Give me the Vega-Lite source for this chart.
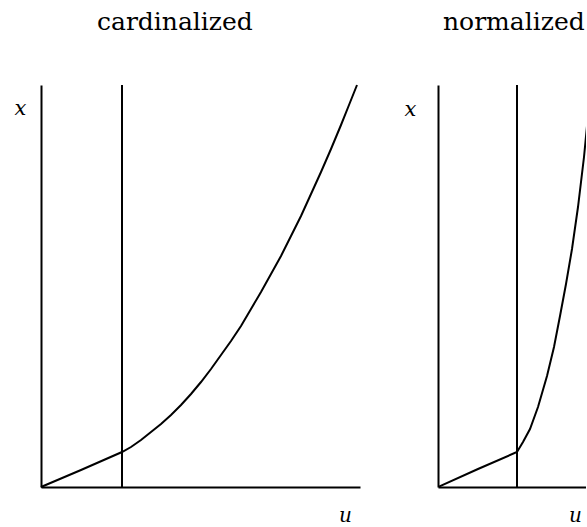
{
  "$schema": "https://vega.github.io/schema/vega-lite/v6.json",
  "background": "white",
  "padding": {"left": 14, "top": 10, "right": 0, "bottom": 0},
  "config": {
    "view": {"stroke": null},
    "axis": {
      "domainColor": "black", "domainWidth": 2, "ticks": false, "labels": false, "grid": false,
      "titleFont": "DejaVu Serif", "titleFontStyle": "italic", "titleFontWeight": "normal",
      "titleFontSize": 21, "titleAngle": 0, "titleColor": "black",
      "titleAlign": "center", "titleBaseline": "middle"
    },
    "title": {"font": "DejaVu Serif", "fontSize": 25, "fontWeight": "normal", "color": "black",
      "anchor": "start", "frame": "group", "baseline": "alphabetic"}
  },
  "bounds": "flush",
  "spacing": 78,
  "resolve": {"scale": {"x": "independent", "y": "independent"}},
  "hconcat": [
    {
      "width": 319, "height": 402,
      "title": {"text": "cardinalized", "dx": 56, "offset": 46},
      "layer": [
        {
          "data": {"values": [
            {"u": 0, "x": 0}, {"u": 40, "x": 17}, {"u": 81, "x": 35}, {"u": 90, "x": 40},
            {"u": 100, "x": 47}, {"u": 110, "x": 55},
            {"u": 120, "x": 63}, {"u": 130, "x": 72}, {"u": 140, "x": 82}, {"u": 150, "x": 93},
            {"u": 160, "x": 105}, {"u": 170, "x": 118}, {"u": 180, "x": 132}, {"u": 190, "x": 146},
            {"u": 200, "x": 161}, {"u": 210, "x": 178}, {"u": 220, "x": 195}, {"u": 230, "x": 213},
            {"u": 240, "x": 231}, {"u": 250, "x": 251}, {"u": 260, "x": 271}, {"u": 270, "x": 293},
            {"u": 280, "x": 315}, {"u": 290, "x": 338}, {"u": 300, "x": 362}, {"u": 308, "x": 382},
            {"u": 316, "x": 402}
          ]},
          "mark": {"type": "line", "color": "black", "strokeWidth": 2},
          "encoding": {
            "x": {"field": "u", "type": "quantitative", "scale": {"domain": [0, 319], "nice": false},
              "axis": {"title": "u", "titleX": 304, "titleY": 34, "titleBaseline": "alphabetic", "titleFontSize": 20}},
            "y": {"field": "x", "type": "quantitative", "scale": {"domain": [0, 402], "nice": false},
              "axis": {"title": "x", "titleX": -21, "titleY": 23}}
          }
        },
        {
          "data": {"values": [{"u": 81}]},
          "mark": {"type": "rule", "color": "black", "strokeWidth": 2},
          "encoding": {"x": {"field": "u", "type": "quantitative"}}
        }
      ]
    },
    {
      "width": 148, "height": 402,
      "title": {"text": "normalized", "dx": 5, "offset": 49},
      "layer": [
        {
          "data": {"values": [
            {"u": 0, "x": 0}, {"u": 40, "x": 18}, {"u": 79, "x": 35}, {"u": 85, "x": 45},
            {"u": 92, "x": 58}, {"u": 100, "x": 80}, {"u": 109, "x": 111}, {"u": 116, "x": 140},
            {"u": 122, "x": 171}, {"u": 128, "x": 203}, {"u": 134, "x": 238}, {"u": 140, "x": 280},
            {"u": 146, "x": 330}, {"u": 149, "x": 361}, {"u": 153, "x": 402}
          ]},
          "mark": {"type": "line", "color": "black", "strokeWidth": 2, "clip": true},
          "encoding": {
            "x": {"field": "u", "type": "quantitative", "scale": {"domain": [0, 148], "nice": false},
              "axis": {"title": "u", "titleX": 137, "titleY": 34, "titleBaseline": "alphabetic", "titleFontSize": 20}},
            "y": {"field": "x", "type": "quantitative", "scale": {"domain": [0, 402], "nice": false},
              "axis": {"title": "x", "titleX": -28, "titleY": 24}}
          }
        },
        {
          "data": {"values": [{"u": 79}]},
          "mark": {"type": "rule", "color": "black", "strokeWidth": 2},
          "encoding": {"x": {"field": "u", "type": "quantitative"}}
        }
      ]
    }
  ]
}
